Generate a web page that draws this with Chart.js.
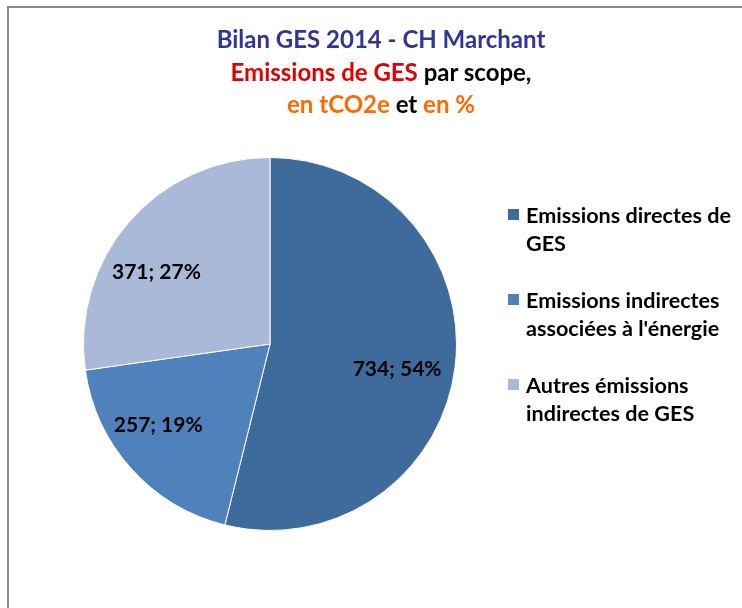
<!DOCTYPE html>
<html><head><meta charset="utf-8">
<script src="https://cdn.jsdelivr.net/npm/chart.js@4/dist/chart.umd.min.js"></script>
<style>
html,body{margin:0;padding:0;background:#fff;width:742px;height:608px;overflow:hidden;position:relative;font-family:Lato,"Open Sans",sans-serif;}
#frame{position:absolute;left:7px;top:6px;width:800px;height:700px;border-left:2px solid #8a8a8a;border-top:2px solid #8a8a8a;}
#cv{position:absolute;left:0;top:0;}
#title{position:absolute;left:10px;width:742px;top:23px;text-align:center;font-weight:bold;font-size:24px;line-height:32.5px;}
#title .navy{color:#333399}
#title .red{color:#E00000}
#title .blk{color:#000}
#title .org{color:#FF6A00}
#legend{position:absolute;left:508px;top:201px;margin:0;padding:0;list-style:none;}
#legend li{position:relative;padding-left:18px;font-size:21.6px;font-weight:bold;line-height:28px;color:#000;margin-bottom:29px;white-space:nowrap;}
#legend li span.sq{position:absolute;left:0;top:8px;width:11px;height:11px;}
</style></head>
<body>
<div id="frame"></div>
<canvas id="cv" width="742" height="608"></canvas>
<div id="title">
<div class="navy">Bilan GES 2014 - CH Marchant</div>
<div><span class="red">Emissions de GES</span> <span class="blk">par scope,</span></div>
<div><span class="org">en tCO2e</span> <span class="blk">et</span> <span class="org">en %</span></div>
</div>
<ul id="legend"></ul>
<script>
const categories = [
  ["Emissions directes de", "GES"],
  ["Emissions indirectes", "associées à l'énergie"],
  ["Autres émissions", "indirectes de GES"]
];
const values = [734, 257, 371];
const colors = ["#3F6A9C", "#4F81BD", "#A9B9D7"];

// label placement style: [fraction of radius, angular shift in degrees]
const labelPlacement = [[0.695, 4.3], [0.74, 6.1], [0.72, -8.7]];

const sliceLabels = {
  id: 'sliceLabels',
  afterDatasetsDraw(chart) {
    const ctx = chart.ctx;
    const meta = chart.getDatasetMeta(0);
    const data = chart.data.datasets[0].data;
    const total = data.reduce((a, b) => a + b, 0);
    ctx.save();
    ctx.font = 'bold 21px Lato, sans-serif';
    ctx.fillStyle = '#000';
    ctx.textAlign = 'center';
    ctx.textBaseline = 'middle';
    meta.data.forEach((arc, i) => {
      const p = arc.getProps(['x', 'y', 'startAngle', 'endAngle', 'outerRadius'], true);
      const [f, shift] = labelPlacement[i];
      const mid = (p.startAngle + p.endAngle) / 2 + shift * Math.PI / 180;
      const r = p.outerRadius * f;
      const txt = data[i] + '; ' + Math.round(data[i] / total * 100) + '%';
      ctx.fillText(txt, p.x + Math.cos(mid) * r, p.y + Math.sin(mid) * r);
    });
    ctx.restore();
  }
};

const chart = new Chart(document.getElementById('cv'), {
  type: 'pie',
  data: {
    labels: categories,
    datasets: [{
      data: values,
      backgroundColor: colors,
      borderColor: '#ffffff',
      borderWidth: 1
    }]
  },
  options: {
    responsive: false,
    animation: false,
    layout: { padding: { left: 83, right: 285, top: 157, bottom: 77 } },
    plugins: {
      legend: { display: false },
      title: { display: false },
      tooltip: { enabled: false }
    }
  },
  plugins: [sliceLabels]
});

const ul = document.getElementById('legend');
chart.data.labels.forEach((lab, i) => {
  const li = document.createElement('li');
  const sq = document.createElement('span');
  sq.className = 'sq';
  sq.style.background = chart.data.datasets[0].backgroundColor[i];
  li.appendChild(sq);
  lab.forEach((line, k) => {
    if (k) li.appendChild(document.createElement('br'));
    li.appendChild(document.createTextNode(line));
  });
  ul.appendChild(li);
});
</script>
</body></html>
